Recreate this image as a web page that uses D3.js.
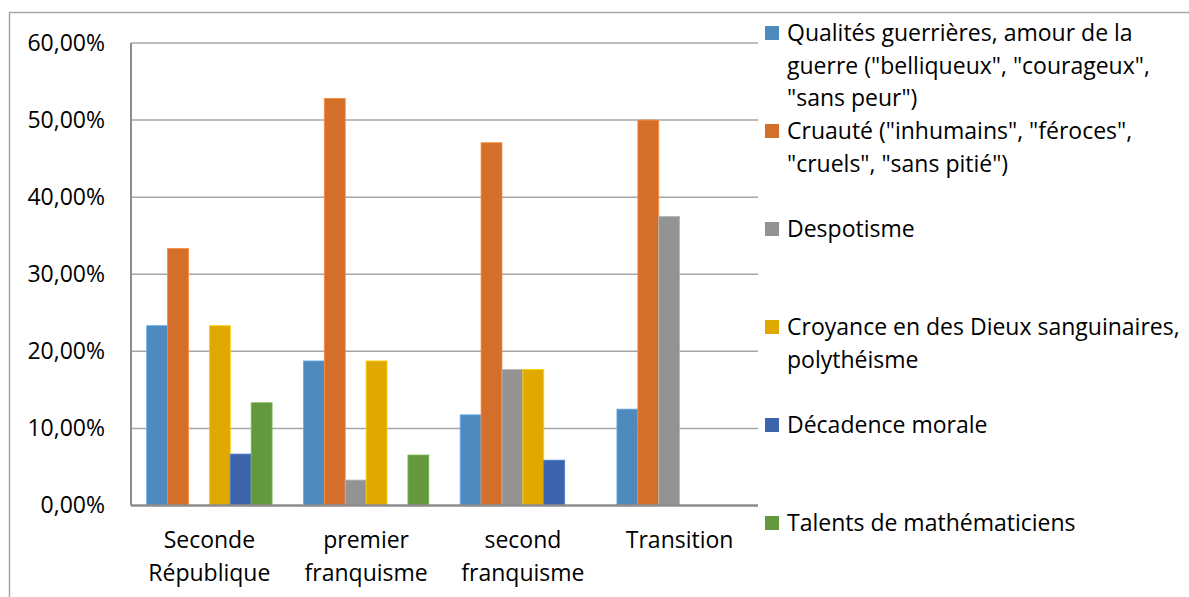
<!DOCTYPE html>
<html><head><meta charset="utf-8">
<script src="https://cdn.jsdelivr.net/npm/d3@7"></script>
<style>
html,body{margin:0;padding:0;background:#fff;}
svg{display:block;}
text{font-family:"Open Sans","Noto Sans",sans-serif;fill:#000;}
</style></head>
<body><svg id="c" width="1189" height="597"></svg>
<script>
const categories = [["Seconde","République"],["premier","franquisme"],["second","franquisme"],["Transition"]];
const seriesNames = [
  ["Qualités guerrières, amour de la","guerre (\"belliqueux\", \"courageux\",","\"sans peur\")"],
  ["Cruauté (\"inhumains\", \"féroces\",","\"cruels\", \"sans pitié\")"],
  ["Despotisme"],
  ["Croyance en des Dieux sanguinaires,","polythéisme"],
  ["Décadence morale"],
  ["Talents de mathématiciens"]
];
const qualites   = [23.33, 18.75, 11.76, 12.5];
const cruaute    = [33.33, 52.8, 47.06, 50.0];
const despotisme = [0, 3.3, 17.65, 37.5];
const croyance   = [23.33, 18.75, 17.65, 0];
const decadence  = [6.67, 0, 5.88, 0];
const talents    = [13.33, 6.55, 0, 0];
const yTicks = [0,10,20,30,40,50,60];
const colors = ["#4F8ABE","#D36F2B","#939393","#E0A900","#3C64AC","#63983E"];
const series = [qualites, cruaute, despotisme, croyance, decadence, talents];

const FS = "23px";
const svg = d3.select("#c");
// outer chart border
svg.append("rect").attr("x",9.5).attr("y",12.5).attr("width",1300).attr("height",700)
  .attr("fill","none").attr("stroke","#A6A6A6").attr("stroke-width",1.5);

const pL=131, pR=758, pT=43, pB=505.5;
const x0 = d3.scaleBand().domain(d3.range(categories.length)).range([pL,pR]).paddingInner(0).paddingOuter(0);
const bw = x0.bandwidth()/7.5;
const x1 = d3.scaleBand().domain(d3.range(series.length)).range([0, bw*6]);
const y = d3.scaleLinear().domain([0,60]).range([pB, pT]);

// gridlines
svg.append("g").selectAll("line").data(yTicks.filter(d=>d>0)).join("line")
  .attr("x1",pL).attr("x2",pR).attr("y1",d=>y(d)).attr("y2",d=>y(d))
  .attr("stroke","#A6A6A6").attr("stroke-width",1.5);

// y axis labels
const yAxis = d3.axisLeft(y).tickValues(yTicks).tickSize(0).tickPadding(26)
  .tickFormat(d=>d3.format(".2f")(d).replace(".",",")+"%");
const ga = svg.append("g").attr("transform",`translate(${pL},0)`).call(yAxis);
ga.select(".domain").remove();
ga.selectAll("text").style("font-size",FS).attr("font-family","'Open Sans','Noto Sans',sans-serif").attr("fill","#000");

// bars
const groups = svg.append("g").selectAll("g").data(categories).join("g")
  .attr("transform",(d,i)=>`translate(${x0(i)+bw*0.75},0)`);
groups.selectAll("rect").data((d,i)=>series.map((s,j)=>({v:s[i],j})).filter(e=>e.v>0)).join("rect")
  .attr("x",d=>x1(d.j)).attr("width",x1.bandwidth())
  .attr("y",d=>y(d.v)).attr("height",d=>y(0)-y(d.v))
  .attr("fill",d=>colors[d.j])
  .attr("stroke",d=>d3.color(colors[d.j]).brighter(0.6)).attr("stroke-width",0.8);

// axes lines
svg.append("line").attr("x1",pL).attr("x2",pL).attr("y1",pT).attr("y2",pB)
  .attr("stroke","#8C8C8C").attr("stroke-width",2);
svg.append("line").attr("x1",pL).attr("x2",pR).attr("y1",pB).attr("y2",pB)
  .attr("stroke","#8C8C8C").attr("stroke-width",2.5);

// category labels
const cl = svg.append("g").selectAll("text").data(categories).join("text")
  .attr("text-anchor","middle").style("font-size",FS)
  .attr("x",(d,i)=>x0(i)+x0.bandwidth()/2).attr("y",548);
cl.selectAll("tspan").data(d=>d).join("tspan")
  .attr("x",function(){return this.parentNode.getAttribute("x");})
  .attr("dy",(d,i)=>i===0?0:32.5).text(d=>d);

// legend
const lg = svg.append("g").selectAll("g").data(seriesNames).join("g")
  .attr("transform",(d,i)=>`translate(765,${33+i*98})`);
lg.append("rect").attr("x",0).attr("y",-7).attr("width",14).attr("height",14)
  .attr("fill",(d,i)=>colors[i]);
const lt = lg.append("text").attr("x",22).attr("y",8).style("font-size",FS);
lt.selectAll("tspan").data(d=>d).join("tspan").attr("x",22).attr("dy",(d,i)=>i===0?0:32.5).text(d=>d);
</script></body></html>
